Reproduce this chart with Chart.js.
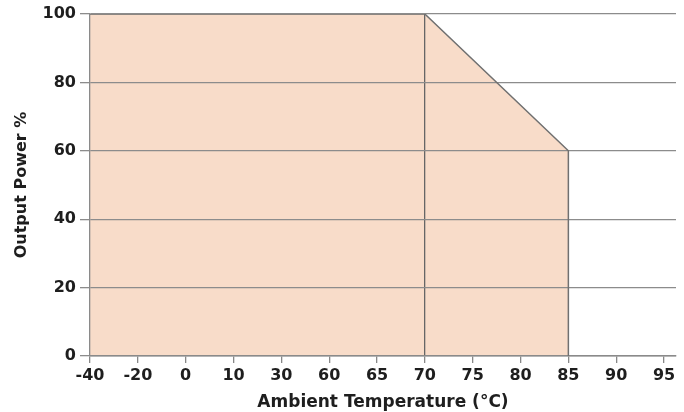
<!DOCTYPE html>
<html>
<head>
<meta charset="utf-8">
<script src="https://cdn.jsdelivr.net/npm/chart.js@4.4.1/dist/chart.umd.min.js"></script>
<style>
  html, body { margin: 0; padding: 0; background: #fff; }
  #wrap { width: 684px; height: 412px; }
</style>
</head>
<body>
<div id="wrap"><canvas id="derating"></canvas></div>
<script>
// temperature labels along the x axis (evenly spaced, not to scale)
const tempLabels = ['-40', '-20', '0', '10', '30', '60', '65', '70', '75', '80', '85', '90', '95'];
const powerTicks = [0, 20, 40, 60, 80, 100];

// derating curve corners
const curveTemps = ['-40', '70', '85', '85'];
const curvePower = [100, 100, 60, 0];

const boldFont = size => ({ family: '"DejaVu Sans", sans-serif', size: size, weight: 'bold' });

var ctx = document.getElementById('derating').getContext('2d');
var chart = new Chart(ctx, {
    type: 'line',
    data: {
        datasets: [{
            data: curveTemps.map((t, i) => ({ x: tempLabels.indexOf(t), y: curvePower[i] })),
            fill: 'origin',
            backgroundColor: '#f8dcc9',
            borderColor: '#707070',
            borderWidth: 1.5,
            pointRadius: 0,
            tension: 0
        }]
    },
    options: {
        responsive: true,
        maintainAspectRatio: false,
        animation: false,
        layout: { padding: { top: 14, right: 8, left: 0, bottom: 0 } },
        plugins: {
            legend: { display: false },
            tooltip: { enabled: false },
            filler: { drawTime: 'beforeDraw' }
        },
        scales: {
            x: {
                type: 'linear',
                min: 0,
                max: 12.25,
                afterBuildTicks: scale => {
                    scale.ticks = tempLabels.map((_, i) => ({ value: i }));
                },
                afterFit: scale => { scale.height = 56; },
                ticks: {
                    callback: v => tempLabels[v],
                    font: boldFont(16),
                    color: '#1e1e1e',
                    padding: 3,
                    maxRotation: 0,
                    autoSkip: false
                },
                grid: {
                    color: c => (c.tick && c.tick.value === tempLabels.indexOf('70')) ? '#666' : 'rgba(0,0,0,0)',
                    tickColor: '#888',
                    tickLength: 7,
                    lineWidth: 1.3
                },
                border: { color: '#8a8a8a', width: 1.5 },
                title: {
                    display: true,
                    text: 'Ambient Temperature (°C)',
                    font: boldFont(17),
                    color: '#1e1e1e',
                    padding: { top: 0, bottom: -1 }
                }
            },
            y: {
                min: 0,
                max: 100,
                afterBuildTicks: scale => {
                    scale.ticks = powerTicks.map(v => ({ value: v }));
                },
                afterFit: scale => { scale.width = 90; },
                ticks: {
                    font: boldFont(16),
                    color: '#1e1e1e',
                    padding: 4
                },
                grid: {
                    color: '#8c8c8c',
                    lineWidth: 1.3,
                    tickLength: 10
                },
                border: { color: '#8a8a8a', width: 1.3 },
                title: {
                    display: true,
                    text: 'Output Power %',
                    font: boldFont(16),
                    color: '#1e1e1e',
                    padding: { top: 12, bottom: 0 }
                }
            }
        }
    }
});
</script>
</body>
</html>
